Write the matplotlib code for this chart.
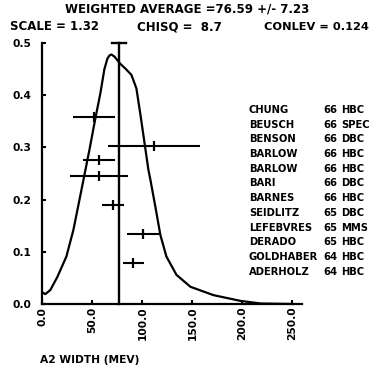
import matplotlib
matplotlib.use("Agg")
import matplotlib.pyplot as plt

# Ideogram curve (A2 width, MeV)
curve_x = [0, 3, 8, 15, 24, 31, 37, 42, 47, 53, 58, 62, 65, 67, 69, 72, 78, 83, 89,
           94, 98, 103, 106, 108, 113, 118, 124, 134, 148, 171, 198, 218, 250]
curve_y = [0.022, 0.019, 0.027, 0.052, 0.091, 0.142, 0.199, 0.247, 0.295, 0.356,
           0.404, 0.450, 0.470, 0.476, 0.478, 0.474, 0.460, 0.451, 0.439, 0.413,
           0.363, 0.297, 0.257, 0.238, 0.186, 0.132, 0.091, 0.056, 0.033, 0.017,
           0.006, 0.001, 0.0]

# Individual measurements: value, error, plotting height
meas_val = [52, 112, 57, 57, 71, 101, 91]
meas_err = [21, 46, 16, 29, 11, 16, 10.5]
meas_h = [0.358, 0.303, 0.275, 0.246, 0.190, 0.134, 0.079]

avg_val = 76.59
avg_err = 7.23
scale = 1.32
chisq = 8.7
conlev = 0.124

authors = ["CHUNG", "BEUSCH", "BENSON", "BARLOW", "BARLOW", "BARI", "BARNES",
           "SEIDLITZ", "LEFEBVRES", "DERADO", "GOLDHABER", "ADERHOLZ"]
years = ["66", "66", "66", "66", "66", "66", "66", "65", "65", "65", "64", "64"]
techs = ["HBC", "SPEC", "DBC", "HBC", "HBC", "DBC", "HBC", "DBC", "MMS", "HBC",
         "HBC", "HBC"]

xticks = [0, 50, 100, 150, 200, 250]
yticks = [0.0, 0.1, 0.2, 0.3, 0.4, 0.5]

W, H = 372, 371
fig = plt.figure(figsize=(W / 100, H / 100), dpi=100)
font = dict(family="DejaVu Sans", weight="bold")

ax = fig.add_axes([42.4 / W, (H - 304) / H, 260 / W, 261 / H])
ax.set_xlim(0, 260)
ax.set_ylim(0, 0.5)
for s in ("top", "right"):
    ax.spines[s].set_visible(False)
for s in ("left", "bottom"):
    ax.spines[s].set_linewidth(1.6)
ax.spines["left"].set_bounds(0, 0.5)

ax.plot(curve_x, curve_y, color="black", lw=1.6, clip_on=False)

ax.errorbar(meas_val, meas_h, xerr=meas_err, fmt="none", ecolor="black",
            elinewidth=1.5, capsize=0)
ax.plot(meas_val, meas_h, ls="none", marker="|", ms=6.5, mew=1.6, color="black")

ax.plot([avg_val, avg_val], [0, 0.5], color="black", lw=1.7, clip_on=False)
ax.plot([avg_val - avg_err, avg_val + avg_err], [0.5, 0.5], color="black",
        lw=1.7, clip_on=False)

ax.set_xticks(xticks)
ax.set_xticklabels([f"{v:.1f}" for v in xticks], rotation=90, fontsize=7.7, **font)
ax.set_yticks(yticks)
ax.set_yticklabels([f"{v:.1f}" for v in yticks], fontsize=7.7, **font)
ax.tick_params(axis="both", direction="in", length=3, width=1.5)
ax.tick_params(axis="x", pad=2)
ax.tick_params(axis="y", pad=8)

def px(x, y):
    return x / W, 1 - y / H

fig.text(*px(187, 9.5), f"WEIGHTED AVERAGE ={avg_val:.2f} +/- {avg_err:.2f}",
         ha="center", va="center", fontsize=8.5, **font)
fig.text(*px(10, 27), f"SCALE = {scale:.2f}", ha="left", va="center",
         fontsize=8.5, **font)
fig.text(*px(137, 27), f"CHISQ = {chisq:4.1f}", ha="left", va="center",
         fontsize=8.5, **font)
fig.text(*px(369, 27), f"CONLEV = {conlev:.3f}", ha="right", va="center",
         fontsize=8.2, **font)

for i, (a, yr, t) in enumerate(zip(authors, years, techs)):
    yy = 110 + 14.7 * i
    fig.text(*px(249, yy), a, ha="left", va="center", fontsize=7.2, **font)
    fig.text(*px(323, yy), yr, ha="left", va="center", fontsize=7.2, **font)
    fig.text(*px(341, yy), t, ha="left", va="center", fontsize=7.2, **font)

fig.text(*px(40, 360), "A2 WIDTH (MEV)", ha="left", va="center", fontsize=7.7, **font)

fig.savefig("out.png", dpi=100, facecolor="white")
